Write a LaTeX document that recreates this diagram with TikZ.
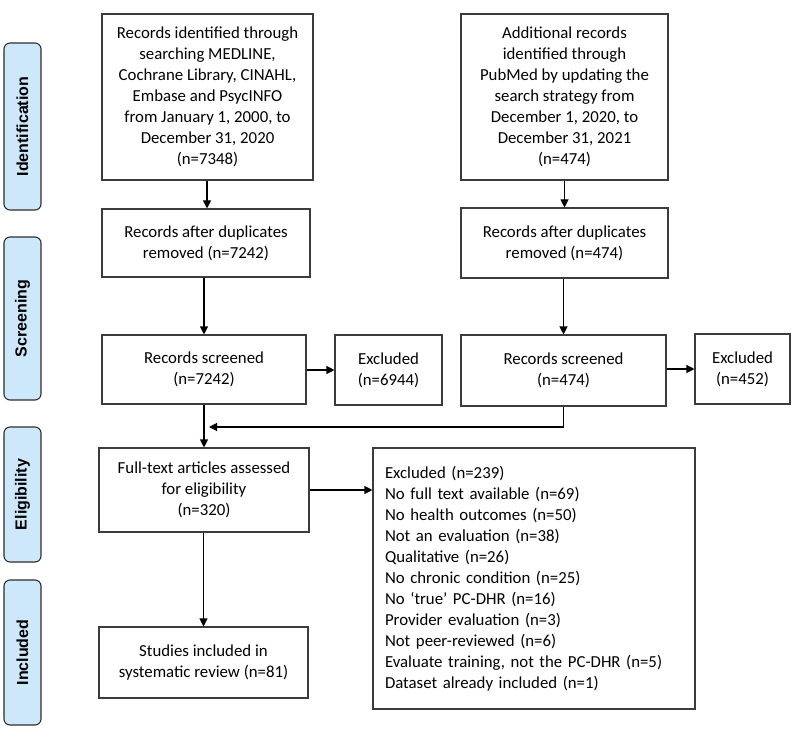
\documentclass[tikz,border=0pt]{standalone}
\usepackage{fontspec}
\setmainfont{Carlito}
\newfontfamily\sidefont{Liberation Sans}
\usetikzlibrary{arrows.meta,calc}
\definecolor{boxline}{RGB}{60,60,60}
\definecolor{sidefill}{RGB}{205,232,251}
\definecolor{sideline}{RGB}{45,45,45}
\begin{document}
\begin{tikzpicture}[x=1pt,y=-1pt,
  flowbox/.style={draw=boxline,line width=1.1pt,rectangle,align=center,inner sep=2pt,
    font=\fontsize{16.8}{21}\selectfont},
  sidelabel/.style={draw=sideline,fill=sidefill,line width=1.1pt,rounded corners=6pt,
    minimum width=37pt,inner sep=0pt},
  sidetext/.style={rotate=90,font=\sidefont\bfseries\fontsize{16}{18}\selectfont},
  arr/.style={draw=black,line width=1.1pt,-{Triangle[length=8pt,width=8pt]}}
]
\useasboundingbox (0,0) rectangle (800,738);

% side labels
\node[sidelabel,minimum height=167pt] (sid) at (22.5,126.5) {};
\node[sidetext] (tid) at (sid.center) {Identification};
\node[sidelabel,minimum height=163pt] (ssc) at (22.5,318.5) {};
\node[sidetext] (tsc) at (ssc.center) {Screening};
\node[sidelabel,minimum height=135pt] (sel) at (22.5,494.5) {};
\node[sidetext] (tel) at (sel.center) {Eligibility};
\node[sidelabel,minimum height=145pt] (sin) at (22.5,652.5) {};
\node[sidetext] (tin) at (sin.center) {Included};

% left column
\node[flowbox,minimum width=211pt,minimum height=166pt] (A) at (207.5,97)
  {Records identified through\\searching MEDLINE,\\Cochrane Library, CINAHL,\\Embase and PsycINFO\\from January 1, 2000, to\\December 31, 2020\\(n=7348)};
\node[flowbox,minimum width=208pt,minimum height=68pt] (C) at (206,243)
  {Records after duplicates\\removed (n=7242)};
\node[flowbox,minimum width=204pt,minimum height=69pt] (D) at (204,369.5)
  {Records screened\\(n=7242)};
\node[flowbox,minimum width=107pt,minimum height=70pt] (X1) at (388.5,370)
  {Excluded\\(n=6944)};
\node[flowbox,minimum width=210pt,minimum height=84pt] (G) at (204,490)
  {Full-text articles assessed\\for eligibility\\(n=320)};
\node[flowbox,minimum width=209pt,minimum height=71pt] (I) at (203.5,662.5)
  {Studies included in\\systematic review (n=81)};

% right column
\node[flowbox,minimum width=207pt,minimum height=166pt] (B) at (564.5,97)
  {Additional records\\identified through\\PubMed by updating the\\search strategy from\\December 1, 2020, to\\December 31, 2021\\(n=474)};
\node[flowbox,minimum width=207pt,minimum height=70pt] (E) at (564.5,243)
  {Records after duplicates\\removed (n=474)};
\node[flowbox,minimum width=205pt,minimum height=71pt] (F) at (563.5,370.5)
  {Records screened\\(n=474)};
\node[flowbox,minimum width=95pt,minimum height=70pt] (X2) at (742.5,369)
  {Excluded\\(n=452)};

\node[flowbox,align=left,text width=298pt,inner sep=12pt,minimum height=261pt] (H) at (534,578.5)
  {Excluded (n=239)\\No full text available (n=69)\\No health outcomes (n=50)\\Not an evaluation (n=38)\\Qualitative (n=26)\\No chronic condition (n=25)\\No ‘true’ PC-DHR (n=16)\\Provider evaluation (n=3)\\Not peer-reviewed (n=6)\\Evaluate training, not the PC-DHR (n=5)\\Dataset already included (n=1)};

\coordinate (m) at (204,427);

% connectors
\draw[arr] (A.south -| 207,0) -- (C.north -| 207,0);
\draw[arr] (C.south -| D.north) -- (D.north);
\draw[arr] (D.east |- X1.west) -- (X1.west);
\draw[arr] (D.south) -- (G.north);
\draw[arr] (B.south) -- (E.north);
\draw[arr] (E.south -| F.north) -- (F.north);
\draw[arr] (F.east |- X2.west) -- (X2.west);
\draw[arr] (F.south) |- ([xshift=5pt]m);
\draw[arr] (G.east) -- (G.east -| H.west);
\draw[arr] (G.south -| I.north) -- (I.north);
\end{tikzpicture}
\end{document}
